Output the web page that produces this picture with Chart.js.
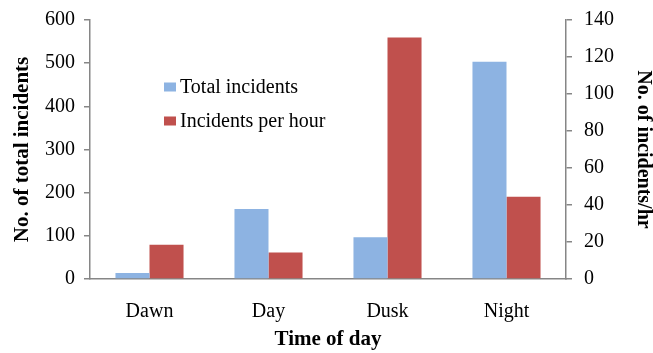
<!DOCTYPE html>
<html>
<head>
<meta charset="utf-8">
<script src="https://cdn.jsdelivr.net/npm/chart.js@4/dist/chart.umd.min.js"></script>
<style>
  html, body { margin: 0; padding: 0; background: #ffffff; }
  #wrap { width: 653px; height: 353px; position: relative; }
</style>
</head>
<body>
<div id="wrap"><canvas id="chart" width="653" height="353"></canvas></div>
<script>
// Incidents by time of day
const categories = ['Dawn', 'Day', 'Dusk', 'Night'];
const totalIncidents = [14, 162, 97, 503];
const incidentsPerHour = [18.5, 14.3, 130.5, 44.5];
const leftTicks = [0, 100, 200, 300, 400, 500, 600];
const rightTicks = [0, 20, 40, 60, 80, 100, 120, 140];

const BLUE = '#8db3e2';
const RED = '#c0504d';
const AXIS = '#868686';
const SERIF = '"Liberation Serif", "Times New Roman", serif';

// Legend drawn inside the plot area, upper left
const innerLegend = {
  id: 'innerLegend',
  afterDraw(chart) {
    const ctx = chart.ctx;
    const items = chart.data.datasets.map(d => ({ label: d.label, color: d.backgroundColor }));
    const x = 164, y0 = 87, gap = 34;
    ctx.save();
    ctx.font = '20px ' + SERIF;
    ctx.textBaseline = 'middle';
    ctx.textAlign = 'left';
    items.forEach((it, i) => {
      const y = y0 + i * gap;
      ctx.fillStyle = it.color;
      ctx.fillRect(x, y - 4.5, 12, 9);
      ctx.fillStyle = '#000000';
      ctx.fillText(it.label, x + 16, y + 1);
    });
    ctx.restore();
  }
};

// Fixed scale box sizes; the plot area spans from y=20 to y=279
const fitVertical = w => s => { s.width = w; s.paddingTop = 0; s.paddingBottom = 0; };

new Chart(document.getElementById('chart'), {
  type: 'bar',
  data: {
    labels: categories,
    datasets: [
      { label: 'Total incidents', data: totalIncidents, backgroundColor: BLUE, yAxisID: 'y' },
      { label: 'Incidents per hour', data: incidentsPerHour, backgroundColor: RED, yAxisID: 'y1' }
    ]
  },
  options: {
    responsive: false,
    animation: false,
    devicePixelRatio: 1,
    layout: { padding: { top: 20, left: 0, right: 0, bottom: 0 } },
    datasets: { bar: { categoryPercentage: 0.572, barPercentage: 1.0 } },
    plugins: { legend: { display: false }, tooltip: { enabled: false } },
    scales: {
      x: {
        grid: { display: false },
        border: { display: true, color: AXIS, width: 1.5 },
        ticks: { color: '#000', font: { family: SERIF, size: 20 }, padding: 13 },
        title: { display: true, text: 'Time of day', color: '#000',
                 font: { family: SERIF, size: 21, weight: 'bold', lineHeight: 1 }, padding: { top: 0, bottom: 2.5 } },
        afterFit: s => { s.height = 74; s.paddingLeft = 0; s.paddingRight = 0; }
      },
      y: {
        position: 'left',
        min: 0, max: 600,
        afterBuildTicks: s => { s.ticks = leftTicks.map(v => ({ value: v })); },
        grid: { drawOnChartArea: false, drawTicks: true, tickLength: 6, color: AXIS, lineWidth: 1.5 },
        border: { display: true, color: AXIS, width: 1.5 },
        ticks: { color: '#000', font: { family: SERIF, size: 20 }, padding: 9 },
        title: { display: true, text: 'No. of total incidents', color: '#000',
                 font: { family: SERIF, size: 21, weight: 'bold', lineHeight: 1 }, padding: { top: 12, bottom: 0 } },
        afterFit: fitVertical(90)
      },
      y1: {
        position: 'right',
        min: 0, max: 140,
        afterBuildTicks: s => { s.ticks = rightTicks.map(v => ({ value: v })); },
        grid: { drawOnChartArea: false, drawTicks: true, tickLength: 6, color: AXIS, lineWidth: 1.5 },
        border: { display: true, color: AXIS, width: 1.5 },
        ticks: { color: '#000', font: { family: SERIF, size: 20 }, padding: 12 },
        title: { display: true, text: 'No. of incidents/hr', color: '#000',
                 font: { family: SERIF, size: 20, weight: 'bold', lineHeight: 1 }, padding: { top: 0, bottom: 0 } },
        afterFit: fitVertical(87)
      }
    }
  },
  plugins: [innerLegend]
});
</script>
</body>
</html>
